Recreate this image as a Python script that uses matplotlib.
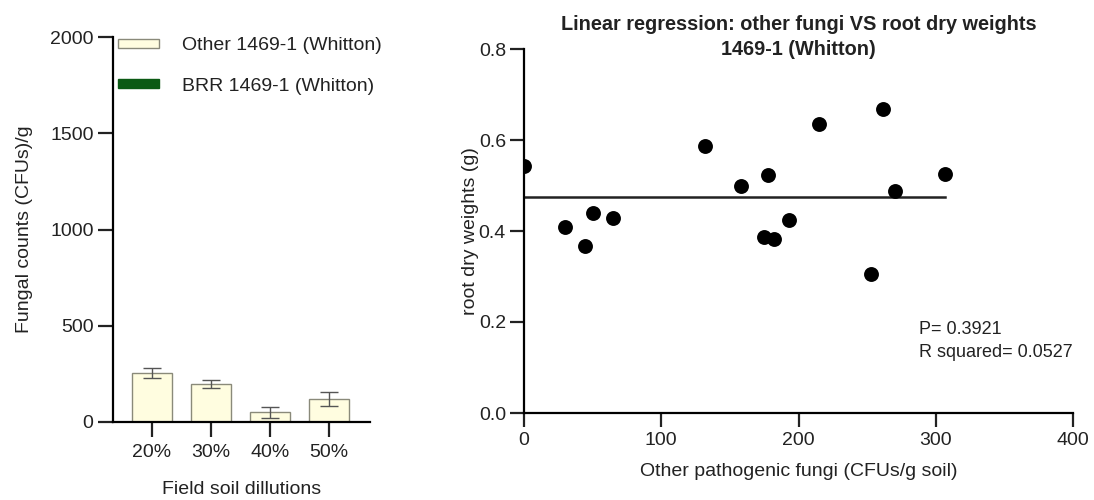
import numpy as np
import matplotlib
matplotlib.use("Agg")
import matplotlib.pyplot as plt
from matplotlib.patches import Patch

plt.rcParams['font.family'] = ['Liberation Sans', 'DejaVu Sans']

# left panel: fungal counts per dilution
dilutions = ['20%', '30%', '40%', '50%']
other_counts = [254, 197, 50, 119]
other_err = [26, 20, 28, 37]
legend_labels = ['Other 1469-1 (Whitton)', 'BRR 1469-1 (Whitton)']

# right panel: other fungi vs root dry weight
fungi = [0, 30.0, 44.5, 50.0, 64.9, 131.8, 158.0, 174.5, 177.5, 182.4,
         192.9, 214.7, 253.1, 261.8, 270.0, 306.6]
root_dw = [0.542, 0.408, 0.368, 0.439, 0.428, 0.587, 0.500, 0.386, 0.523,
           0.382, 0.425, 0.636, 0.305, 0.668, 0.489, 0.526]
p_text = 'P= 0.3921'
r2_text = 'R squared= 0.0527'

cream = '#fffde0'
green = '#0b5a14'
txt = '#222222'

fig = plt.figure(figsize=(10.94, 5), dpi=100)

# ---- bar chart ----
ax1 = fig.add_axes([0.1033, 0.156, 0.2349, 0.77])
xs = np.arange(len(dilutions))
ax1.bar(xs, other_counts, width=0.67, color=cream, edgecolor='#8a8a7a', linewidth=1)
ax1.errorbar(xs, other_counts, yerr=other_err, fmt='none', ecolor='#555555',
             elinewidth=1, capsize=6.5, capthick=1)
ax1.set_xlim(-0.66, 3.69)
ax1.set_ylim(0, 2000)
ax1.set_yticks([0, 500, 1000, 1500, 2000])
ax1.set_xticks(xs)
ax1.set_xticklabels(dilutions)
for s in ['top', 'right']:
    ax1.spines[s].set_visible(False)
for s in ['left', 'bottom']:
    ax1.spines[s].set_linewidth(1.6)
ax1.tick_params(axis='both', length=11, width=1.6, labelsize=14, colors=txt)
ax1.tick_params(axis='x', pad=5)
ax1.tick_params(axis='y', pad=3)
ax1.set_ylabel('Fungal counts (CFUs)/g', fontsize=14, color=txt, labelpad=12)
ax1.set_xlabel('Field soil dillutions', fontsize=14, color=txt, labelpad=14)

handles = [Patch(facecolor=cream, edgecolor='#8a8a7a', linewidth=1),
           Patch(facecolor=green, edgecolor=green)]
ax1.legend(handles, legend_labels, loc='upper left', bbox_to_anchor=(0.019, 0.999),
           frameon=False, fontsize=14, handlelength=2.1, handleheight=0.3,
           handletextpad=1.2, labelspacing=1.2, borderpad=0, borderaxespad=0,
           labelcolor=txt)

# ---- regression scatter ----
ax2 = fig.add_axes([0.479, 0.174, 0.5018, 0.728])
ax2.scatter(fungi, root_dw, s=115, color='black', zorder=3, linewidths=0)
fx = np.array(fungi)
ax2.plot([fx.min(), fx.max()], [np.mean(root_dw)] * 2, color='#222222', linewidth=1.8)
ax2.set_xlim(0, 400)
ax2.set_ylim(0, 0.8)
ax2.set_xticks([0, 100, 200, 300, 400])
ax2.set_yticks([0.0, 0.2, 0.4, 0.6, 0.8])
ax2.yaxis.set_major_formatter(matplotlib.ticker.FormatStrFormatter('%.1f'))
for s in ['top', 'right']:
    ax2.spines[s].set_visible(False)
for s in ['left', 'bottom']:
    ax2.spines[s].set_linewidth(1.6)
ax2.tick_params(axis='both', length=10, width=1.6, labelsize=14, colors=txt)
ax2.tick_params(axis='x', pad=4)
ax2.tick_params(axis='y', pad=3)
ax2.set_xlabel('Other pathogenic fungi (CFUs/g soil)', fontsize=14, color=txt, labelpad=10)
ax2.set_ylabel('root dry weights (g)', fontsize=14, color=txt, labelpad=0)
ax2.set_title('Linear regression: other fungi VS root dry weights\n1469-1 (Whitton)',
              fontsize=14.3, fontweight='bold', color=txt, y=1.0, pad=-4.5,
              linespacing=1.4)
ax2.text(288, 0.183, p_text, fontsize=13, color=txt, va='center')
ax2.text(288, 0.133, r2_text, fontsize=13, color=txt, va='center')

fig.savefig('out.png', dpi=100, facecolor='white')
